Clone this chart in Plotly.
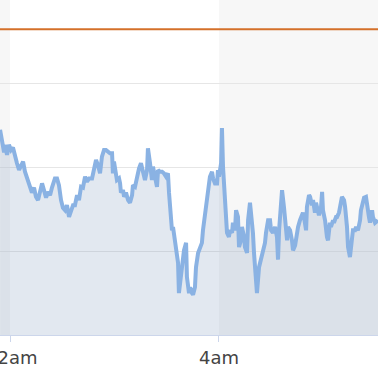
import pandas as pd
import plotly.graph_objects as go

# minutes relative to 02:00
minutes = [-5.7, -4.6, -3.4, -2.9, -1.7, -0.6, 0.6, 1.7, 2.9, 4.0, 5.2, 6.3, 7.5, 8.6, 10.3, 11.5,
           12.6, 13.8, 14.9, 16.1, 17.2, 18.4, 19.5, 20.7, 21.8, 23.0, 24.1, 25.8, 27.0, 28.1, 29.3,
           30.4, 31.6, 32.7, 33.9, 35.0, 36.2, 37.3, 38.5, 39.6, 40.8, 41.9, 43.1, 44.2, 45.4, 47.1,
           48.2, 49.4, 50.5, 51.7, 52.8, 54.0, 55.1, 56.3, 57.4, 58.6, 59.1, 59.7, 60.9, 61.4, 62.6,
           63.2, 63.7, 64.9, 65.5, 66.6, 67.8, 68.9, 70.1, 70.6, 71.8, 72.9, 74.1, 75.2, 76.4, 77.5,
           78.7, 79.2, 80.4, 81.5, 82.1, 83.2, 84.4, 85.0, 86.1, 87.3, 88.4, 89.6, 90.7, 91.3, 92.4,
           93.0, 93.6, 94.7, 95.9, 96.5, 97.0, 98.2, 99.3, 99.9, 101.1, 101.6, 102.8, 103.4, 104.5,
           105.1, 106.2, 106.8, 108.0, 109.1, 110.2, 110.8, 112.0, 113.1, 113.7, 114.8, 116.0, 116.6,
           117.7, 118.9, 119.4, 120.0, 121.2, 121.7, 122.3, 123.5, 124.0, 124.6, 125.7, 126.3, 127.5,
           128.0, 129.2, 129.8, 130.9, 131.5, 132.6, 133.2, 134.4, 134.9, 136.1, 136.7, 137.8, 138.4,
           139.5, 140.1, 141.3, 141.8, 143.0, 143.6, 144.7, 145.3, 146.4, 147.0, 148.2, 149.3, 149.9,
           151.0, 152.2, 153.3, 153.9, 154.5, 155.6, 156.2, 157.3, 157.9, 159.1, 159.6, 160.8, 161.9,
           162.5, 163.7, 164.8, 165.4, 166.5, 167.1, 168.2, 168.8, 170.0, 170.5, 171.7, 172.3, 173.4,
           174.0, 175.1, 175.7, 176.9, 177.4, 178.6, 179.2, 179.7, 180.9, 182.0, 182.6, 183.7, 184.3,
           185.5, 186.0, 187.2, 187.8, 188.9, 190.1, 190.6, 191.8, 192.4, 193.5, 194.1, 195.2, 196.4,
           196.9, 198.1, 198.7, 199.8, 201.0, 201.5, 202.7, 203.3, 204.4, 205.0, 206.1, 206.7, 207.9,
           208.4, 209.6, 211.3]

values = [245, 229, 218, 227, 215, 227, 221, 224, 211, 205, 197, 203, 207, 195, 185, 179,
          170, 176, 165, 161, 170, 181, 173, 164, 171, 167, 176, 187, 187, 179, 161,
          152, 149, 155, 141, 149, 155, 155, 167, 161, 177, 176, 189, 183, 187, 187,
          197, 209, 203, 193, 213, 221, 221, 218, 217, 217, 193, 207, 193, 185, 187,
          181, 170, 173, 165, 170, 161, 158, 167, 179, 177, 189, 199, 205, 193, 185,
          197, 223, 205, 185, 201, 189, 177, 197, 195, 195, 193, 189, 193, 170, 134,
          125, 129, 110, 98, 86, 50, 74, 93, 101, 110, 69, 50, 57, 50,
          48, 57, 81, 98, 105, 110, 125, 146, 158, 171, 189, 195, 187,
          181, 181, 197, 189, 205, 247, 201, 153, 141, 122, 117, 125, 122,
          134, 125, 149, 141, 105, 113, 129, 117, 105, 98, 137, 158, 146,
          122, 98, 62, 50, 81, 86, 93, 101, 110, 122, 137, 137, 125,
          122, 129, 117, 90, 125, 161, 173, 153, 134, 113, 129, 125, 113,
          101, 107, 122, 129, 137, 140, 146, 141, 125, 153, 167, 165, 155,
          161, 146, 158, 146, 143, 153, 171, 149, 137, 117, 113, 134, 129,
          137, 134, 141, 141, 146, 158, 165, 161, 153, 129, 105, 93, 122,
          125, 125, 129, 125, 137, 149, 158, 164, 165, 153, 141, 134, 149,
          141, 134, 137]

threshold = 365
tick_times = ["2024-01-01 02:00", "2024-01-01 04:00"]
tick_labels = ["\u00a0\u00a0\u20092am", "4am"]
view_start_min = -5.74
view_end_min = 211.3

base = pd.Timestamp("2024-01-01 02:00")
times = base + pd.to_timedelta(minutes, unit="min")
x0 = base + pd.Timedelta(minutes=view_start_min)
x1 = base + pd.Timedelta(minutes=view_end_min)

fig = go.Figure()
fig.add_trace(go.Scatter(
    x=times, y=values, mode="lines",
    line=dict(color="#8ab2e3", width=4),
    fill="tozeroy", fillcolor="rgba(110,140,180,0.2)",
    hoverinfo="skip", showlegend=False,
))

# alternating background bands
band_edges = [x0, pd.Timestamp(tick_times[0]), pd.Timestamp(tick_times[1]), x1]
for i in (0, 2):
    fig.add_shape(type="rect", xref="x", yref="paper",
                  x0=band_edges[i], x1=band_edges[i + 1], y0=0, y1=1,
                  fillcolor="#f7f7f7", line_width=0, layer="below")

fig.add_shape(type="line", xref="paper", yref="y", x0=0, x1=1,
              y0=threshold, y1=threshold,
              line=dict(color="#d4702a", width=2), layer="above")

fig.update_layout(
    width=378, height=378,
    margin=dict(l=0, r=0, t=0, b=43, autoexpand=False),
    paper_bgcolor="white", plot_bgcolor="white",
    xaxis=dict(
        type="date", range=[x0, x1], automargin=False,
        tickvals=[pd.Timestamp(t) for t in tick_times], ticktext=tick_labels,
        ticklabeloverflow="allow",
        showgrid=False, showline=True, linecolor="#ccd6eb", linewidth=1,
        ticks="outside", ticklen=6, tickcolor="#ccd6eb",
        tickfont=dict(family="DejaVu Sans", size=18, color="#444444"),
        zeroline=False, fixedrange=True,
    ),
    yaxis=dict(
        range=[0, 400], dtick=100, tick0=0, automargin=False,
        showgrid=True, gridcolor="#e6e6e6", gridwidth=1,
        showticklabels=False, zeroline=False, showline=False,
        fixedrange=True,
    ),
)

fig.write_html("out.html")
